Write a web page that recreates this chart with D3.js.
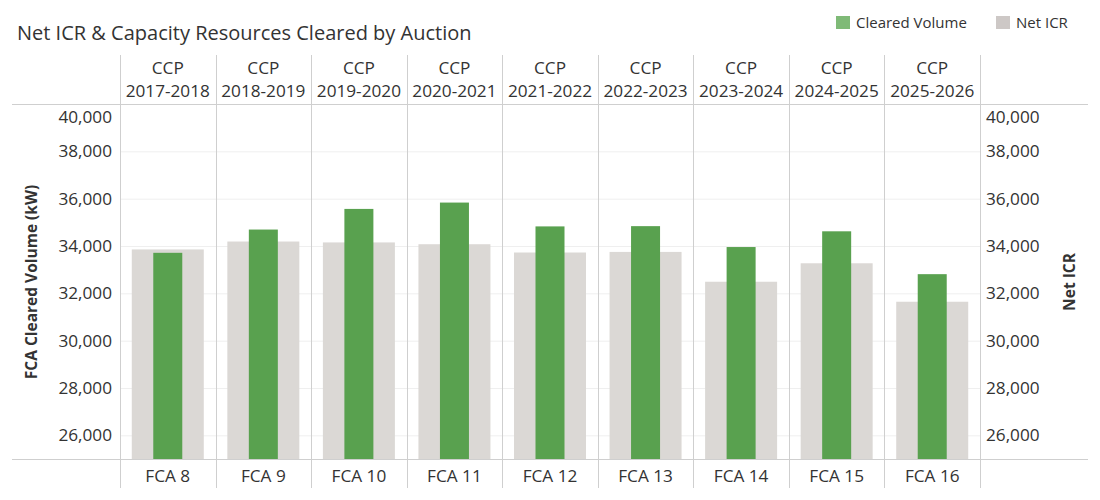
<!DOCTYPE html>
<html>
<head>
<meta charset="utf-8">
<script src="https://cdn.jsdelivr.net/npm/d3@7"></script>
<style>
  body { margin: 0; background: #fff; }
  text { font-family: "Open Sans", "Noto Sans", sans-serif; fill: #333; }
</style>
</head>
<body>
<script>
// chart data
const auctions = ['FCA 8', 'FCA 9', 'FCA 10', 'FCA 11', 'FCA 12', 'FCA 13', 'FCA 14', 'FCA 15', 'FCA 16'];
const periods = ['2017-2018', '2018-2019', '2019-2020', '2020-2021', '2021-2022', '2022-2023', '2023-2024', '2024-2025', '2025-2026'];
const clearedVolume = [33712, 34695, 35567, 35835, 34828, 34839, 33956, 34621, 32810];
const netICR = [33855, 34189, 34151, 34075, 33725, 33750, 32490, 33270, 31645];
const yTicks = [26000, 28000, 30000, 32000, 34000, 36000, 38000, 40000];

const W = 1100, H = 500;
const paneL = 120, paneR = 980, paneT = 104, paneB = 459;
const lineCol = '#cfcfcf';
const fs = '17.2px';

var svg = d3.select('body').append('svg').attr('width', W).attr('height', H);

var x = d3.scaleBand().domain(auctions).range([paneL, paneR]);
var y = d3.scaleLinear().domain([25000, 40000]).range([paneB, paneT]);

// gridlines
svg.append('g').selectAll('line').data(yTicks).join('line')
  .attr('x1', paneL).attr('x2', paneR)
  .attr('y1', d => y(d) + 0.5).attr('y2', d => y(d) + 0.5)
  .attr('stroke', '#efefef');

// bars: net ICR wide gray, cleared narrow green
var grayW = 72, greenW = 29;
svg.append('g').selectAll('rect').data(auctions).join('rect')
  .attr('x', d => x(d) + x.bandwidth() / 2 - grayW / 2)
  .attr('width', grayW)
  .attr('y', (d, i) => y(netICR[i]))
  .attr('height', (d, i) => paneB - y(netICR[i]))
  .attr('fill', '#dbd8d5');

svg.append('g').selectAll('rect').data(auctions).join('rect')
  .attr('x', d => x(d) + x.bandwidth() / 2 - greenW / 2)
  .attr('width', greenW)
  .attr('y', (d, i) => y(clearedVolume[i]))
  .attr('height', (d, i) => paneB - y(clearedVolume[i]))
  .attr('fill', '#59a14f');

// column separators
var seps = [paneL].concat(auctions.map(d => x(d) + x.bandwidth()));
svg.append('g').selectAll('line').data(seps).join('line')
  .attr('x1', d => Math.round(d) + 0.5).attr('x2', d => Math.round(d) + 0.5)
  .attr('y1', 55).attr('y2', 488)
  .attr('stroke', lineCol);

// header and footer rules
[paneT, paneB].forEach(function(yy) {
  svg.append('line').attr('x1', 12).attr('x2', 1088)
    .attr('y1', yy + 0.5).attr('y2', yy + 0.5).attr('stroke', lineCol);
});

// y axes
var yl = svg.append('g').attr('transform', 'translate(112,0)')
  .call(d3.axisLeft(y).tickValues(yTicks).tickSize(0).tickPadding(0).tickFormat(d3.format(',')));
var yr = svg.append('g').attr('transform', 'translate(986,0)')
  .call(d3.axisRight(y).tickValues(yTicks).tickSize(0).tickPadding(0).tickFormat(d3.format(',')));
[yl, yr].forEach(function(g) {
  g.select('.domain').remove();
  g.attr('font-family', null).attr('font-size', null);
  g.selectAll('text').style('font-size', fs).attr('fill', '#333');
  // top label is pushed inside the pane
  g.selectAll('.tick').filter(d => d === 40000).select('text').attr('dy', '1.07em');
});

// top header labels
var hdr = svg.append('g').selectAll('g').data(auctions).join('g')
  .attr('transform', d => 'translate(' + (x(d) + x.bandwidth() / 2) + ',0)');
hdr.append('text').attr('y', 74).attr('text-anchor', 'middle')
  .style('font-size', fs).text('CCP');
hdr.append('text').attr('y', 97).attr('text-anchor', 'middle')
  .style('font-size', fs).text((d, i) => periods[i]);

// bottom labels
svg.append('g').selectAll('text').data(auctions).join('text')
  .attr('x', d => x(d) + x.bandwidth() / 2).attr('y', 482)
  .attr('text-anchor', 'middle').style('font-size', fs)
  .text(d => d);

// axis titles
svg.append('text').attr('transform', 'translate(37,282) rotate(-90)')
  .attr('text-anchor', 'middle').style('font-size', '15.5px').style('font-weight', 'bold')
  .text('FCA Cleared Volume (kW)');
svg.append('text').attr('transform', 'translate(1075,282) rotate(-90)')
  .attr('text-anchor', 'middle').style('font-size', '15.5px').style('font-weight', 'bold')
  .text('Net ICR');

// title
svg.append('text').attr('x', 17).attr('y', 40)
  .style('font-size', '20px').text('Net ICR & Capacity Resources Cleared by Auction');

// legend
var legend = [['Cleared Volume', '#7fba77', 836], ['Net ICR', '#cdc8c6', 996]];
legend.forEach(function(l) {
  svg.append('rect').attr('x', l[2]).attr('y', 16).attr('width', 14).attr('height', 13).attr('fill', l[1]);
  svg.append('text').attr('x', l[2] + 20).attr('y', 28).style('font-size', '15px').text(l[0]);
});
</script>
</body>
</html>
